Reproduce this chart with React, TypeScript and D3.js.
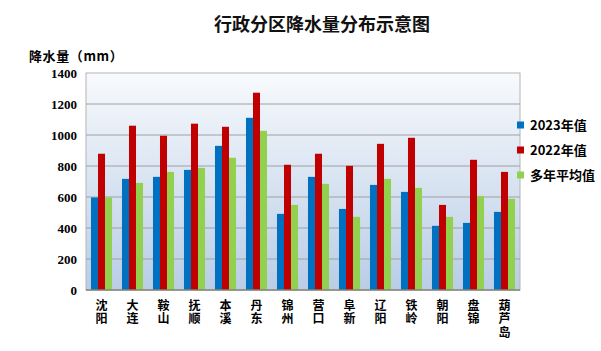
import * as d3 from "d3";
import React, { useEffect } from "react";

const regions = ["沈阳", "大连", "鞍山", "抚顺", "本溪", "丹东", "锦州", "营口", "阜新", "辽阳", "铁岭", "朝阳", "盘锦", "葫芦岛"];
const series = ["2023年值", "2022年值", "多年平均值"];
const v2023 = [597, 717, 730, 775, 930, 1111, 491, 730, 523, 678, 633, 414, 433, 504];
const v2022 = [879, 1060, 995, 1073, 1053, 1273, 808, 879, 801, 943, 982, 549, 840, 762];
const vAvg = [597, 691, 762, 788, 853, 1027, 549, 685, 472, 717, 659, 472, 607, 588];
const yTicks = [0, 200, 400, 600, 800, 1000, 1200, 1400];
const colors = ["#0070c0", "#c00000", "#92d050"];

const W = 601;
const H = 351;
const plot = { left: 86, right: 520, top: 73, bottom: 290 };

const App: React.FC = () => {
  useEffect(() => {
    document.body.style.margin = "0";
  }, []);

  const values = [v2023, v2022, vAvg];

  const x0 = d3.scaleBand<string>().domain(regions).range([plot.left, plot.right]).padding(0);
  const x1 = d3
    .scaleBand<string>()
    .domain(series)
    .range([0, x0.bandwidth()])
    .paddingInner(0)
    .paddingOuter(0.71);
  const y = d3.scaleLinear().domain([0, 1400]).range([plot.bottom, plot.top]);

  const cjk = "'Noto Sans CJK SC', 'Noto Sans', sans-serif";
  const num = "'Liberation Serif', 'DejaVu Serif', serif";

  return (
    <svg width={W} height={H} style={{ display: "block", background: "#fff" }}>
      <defs>
        <linearGradient id="bg" x1="0" y1="0" x2="0" y2="1">
          <stop offset="0%" stopColor="#f8fafd" />
          <stop offset="100%" stopColor="#b9cde6" />
        </linearGradient>
      </defs>

      {/* 제목 */}
      <text x={322} y={31} textAnchor="middle" fontFamily={cjk} fontSize={18} fontWeight={600} fill="#111">
        行政分区降水量分布示意图
      </text>
      <text x={29} y={61} fontFamily={cjk} fontSize={13} fontWeight={700} fill="#000" letterSpacing={0.6}>
        降水量（mm）
      </text>

      {/* 배경 + 격자 */}
      <rect
        x={plot.left}
        y={plot.top}
        width={plot.right - plot.left}
        height={plot.bottom - plot.top}
        fill="url(#bg)"
        stroke="#b4b4b4"
        strokeWidth={1}
      />
      {yTicks.slice(1, -1).map((t) => (
        <line key={t} x1={plot.left} x2={plot.right} y1={y(t)} y2={y(t)} stroke="#a0a0a0" strokeWidth={1} />
      ))}

      {/* 막대 */}
      {regions.map((r, i) => (
        <g key={r} transform={`translate(${x0(r)},0)`}>
          {series.map((s, k) => (
            <rect
              key={s}
              x={x1(s)!}
              y={y(values[k][i])}
              width={x1.bandwidth()}
              height={plot.bottom - y(values[k][i])}
              fill={colors[k]}
            />
          ))}
        </g>
      ))}

      <line x1={plot.left} x2={plot.right} y1={plot.bottom} y2={plot.bottom} stroke="#858578" strokeWidth={1.5} />

      {/* Y 축 */}
      {yTicks.map((t) => (
        <text key={t} x={77} y={y(t) + 4.5} textAnchor="end" fontFamily={num} fontSize={13} fontWeight={700} fill="#000">
          {t}
        </text>
      ))}

      {/* X 축 라벨 (세로쓰기) */}
      {regions.map((r) => (
        <text
          key={r}
          x={x0(r)! + x0.bandwidth() / 2}
          y={299}
          fontFamily={cjk}
          fontSize={12}
          fontWeight={700}
          fill="#000"
          letterSpacing={1.5}
          style={{ writingMode: "vertical-rl" }}
        >
          {r}
        </text>
      ))}

      {/* 범례 */}
      {series.map((s, k) => (
        <g key={s} transform={`translate(517,${125 + k * 25})`}>
          <rect x={0} y={-3.5} width={7} height={7} fill={colors[k]} />
          <text x={13} y={5} fontFamily={cjk} fontSize={13} fontWeight={700} fill="#000">
            {s}
          </text>
        </g>
      ))}
    </svg>
  );
};

export default App;
